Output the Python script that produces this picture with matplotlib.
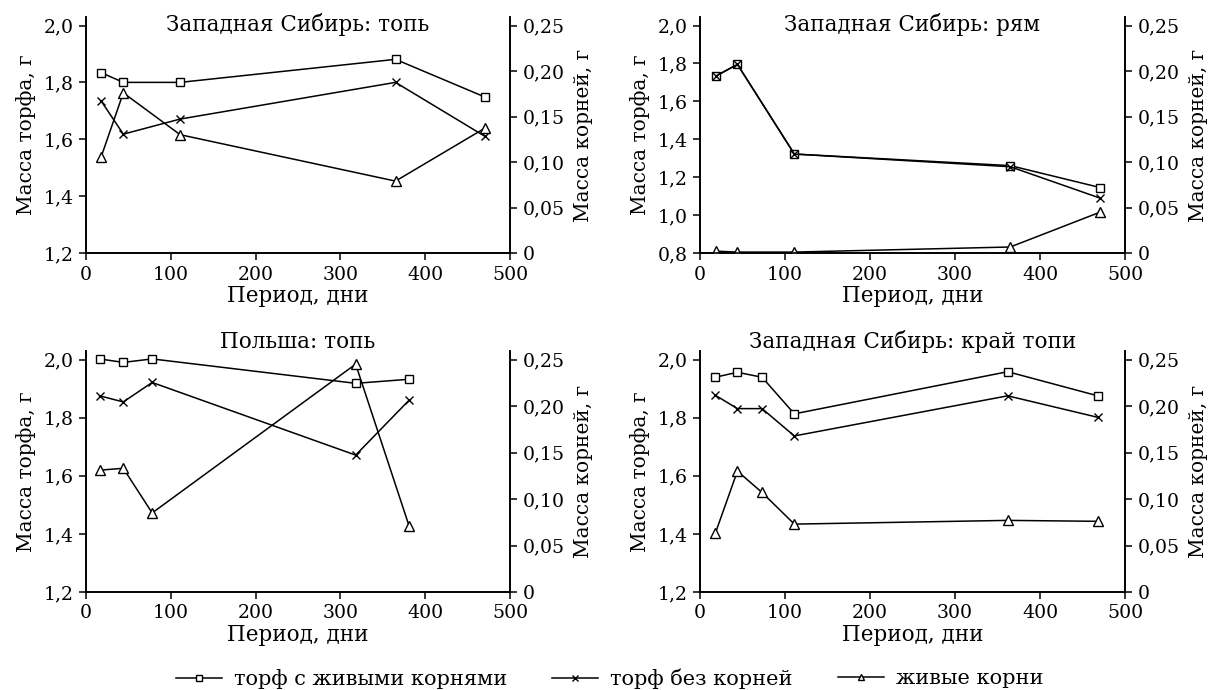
import matplotlib
matplotlib.use("Agg")
import matplotlib.pyplot as plt
from matplotlib.ticker import FuncFormatter, FixedLocator
from matplotlib.lines import Line2D

plt.rcParams['font.family'] = ['DejaVu Serif']
plt.rcParams['axes.linewidth'] = 1.2

# ---- data ----
titles = ["Западная Сибирь: топь", "Западная Сибирь: рям",
          "Польша: топь", "Западная Сибирь: край топи"]

days_wst = [18, 44, 111, 365, 470]
peat_roots_wst = [1.834, 1.80, 1.80, 1.881, 1.749]
peat_noroots_wst = [1.734, 1.618, 1.671, 1.80, 1.611]
roots_wst = [0.106, 0.176, 0.130, 0.079, 0.137]

days_wsr = [19, 44, 111, 365, 471]
peat_roots_wsr = [1.734, 1.795, 1.322, 1.261, 1.145]
peat_noroots_wsr = [1.734, 1.795, 1.322, 1.255, 1.089]
roots_wsr = [0.002, 0.001, 0.001, 0.0066, 0.045]

days_pl = [16, 44, 78, 318, 381]
peat_roots_pl = [2.002, 1.990, 2.002, 1.918, 1.932]
peat_noroots_pl = [1.875, 1.854, 1.921, 1.671, 1.860]
roots_pl = [0.131, 0.133, 0.085, 0.245, 0.071]

days_wse = [18, 44, 73, 111, 362, 468]
peat_roots_wse = [1.939, 1.956, 1.939, 1.813, 1.958, 1.875]
peat_noroots_wse = [1.877, 1.831, 1.831, 1.737, 1.875, 1.801]
roots_wse = [0.063, 0.130, 0.107, 0.073, 0.077, 0.076]

legend_labels = ["торф с живыми корнями", "торф без корней", "живые корни"]
xlabel = "Период, дни"
ylabel_left = "Масса торфа, г"
ylabel_right = "Масса корней, г"

panels = [
    (days_wst, peat_roots_wst, peat_noroots_wst, roots_wst, 1.2),
    (days_wsr, peat_roots_wsr, peat_noroots_wsr, roots_wsr, 0.8),
    (days_pl, peat_roots_pl, peat_noroots_pl, roots_pl, 1.2),
    (days_wse, peat_roots_wse, peat_noroots_wse, roots_wse, 1.2),
]

W, H = 1209, 690
fig = plt.figure(figsize=(W / 100, H / 100), dpi=100)

# axes rectangles in pixels: (left, top, right, bottom)
rects = [(86, 17, 510, 253), (700, 17, 1125, 253),
         (86, 351, 510, 592), (700, 351, 1125, 592)]
title_baseline = [31, 31, 348, 348]

TFS = 13.6    # tick labels
LFS = 15.5    # titles / x labels
YFS = 14.5    # y labels
MS = 6
LW = 1.1


def lfmt(v, pos):
    return ("%.1f" % v).replace(".", ",")


def rfmt(v, pos):
    if abs(v) < 1e-9:
        return "0"
    return ("%.2f" % v).replace(".", ",")


for i, ((x, pr, pn, rt, ymin), (l, t, r, b)) in enumerate(zip(panels, rects)):
    ax = fig.add_axes([l / W, 1 - b / H, (r - l) / W, (b - t) / H])
    ax2 = ax.twinx()
    frac_top = 8.5 / (b - t - 8.5)
    ax.set_ylim(ymin, 2.0 + (2.0 - ymin) * frac_top)
    ax2.set_ylim(0, 0.25 + 0.25 * frac_top)
    ax.set_xlim(0, 500)
    ax.plot(x, pr, color='black', lw=LW, marker='s', ms=MS, mfc='white', mec='black', mew=1.0)
    ax.plot(x, pn, color='black', lw=LW, marker='x', ms=MS, mew=1.0)
    ax2.plot(x, rt, color='black', lw=LW, marker='^', ms=MS + 0.5, mfc='white', mec='black', mew=1.0)
    yt = [round(ymin + 0.2 * k, 1) for k in range(int(round((2.0 - ymin) / 0.2)) + 1)]
    ax.yaxis.set_major_locator(FixedLocator(yt))
    ax2.yaxis.set_major_locator(FixedLocator([0, 0.05, 0.10, 0.15, 0.20, 0.25]))
    ax.yaxis.set_major_formatter(FuncFormatter(lfmt))
    ax2.yaxis.set_major_formatter(FuncFormatter(rfmt))
    ax.set_xticks([0, 100, 200, 300, 400, 500])
    ax.tick_params(direction='out', length=5, width=1.1, labelsize=TFS, pad=4)
    ax2.tick_params(direction='out', length=5, width=1.1, labelsize=TFS, pad=4.5)
    for a in (ax, ax2):
        a.spines['top'].set_visible(False)
    ax.set_xlabel(xlabel, fontsize=LFS, labelpad=1)
    ax.set_ylabel(ylabel_left, fontsize=YFS, labelpad=5)
    ax2.set_ylabel(ylabel_right, fontsize=YFS, labelpad=6)
    fig.text((l + r) / 2 / W, 1 - title_baseline[i] / H, titles[i],
             ha='center', va='baseline', fontsize=LFS)

entries = [
    (Line2D([], [], color='black', lw=LW, marker='s', ms=5, mfc='white', mec='black'), 176),
    (Line2D([], [], color='black', lw=LW, marker='x', ms=5), 552),
    (Line2D([], [], color='black', lw=LW, marker='^', ms=5, mfc='white', mec='black'), 838),
]
for (h, xpx), lab in zip(entries, legend_labels):
    fig.legend([h], [lab], loc='center left', bbox_to_anchor=(xpx / W, 1 - 679 / H),
               frameon=False, handlelength=2.2, handletextpad=0.6, borderpad=0,
               borderaxespad=0, prop={'size': 15})

fig.savefig("out.png", dpi=100)
